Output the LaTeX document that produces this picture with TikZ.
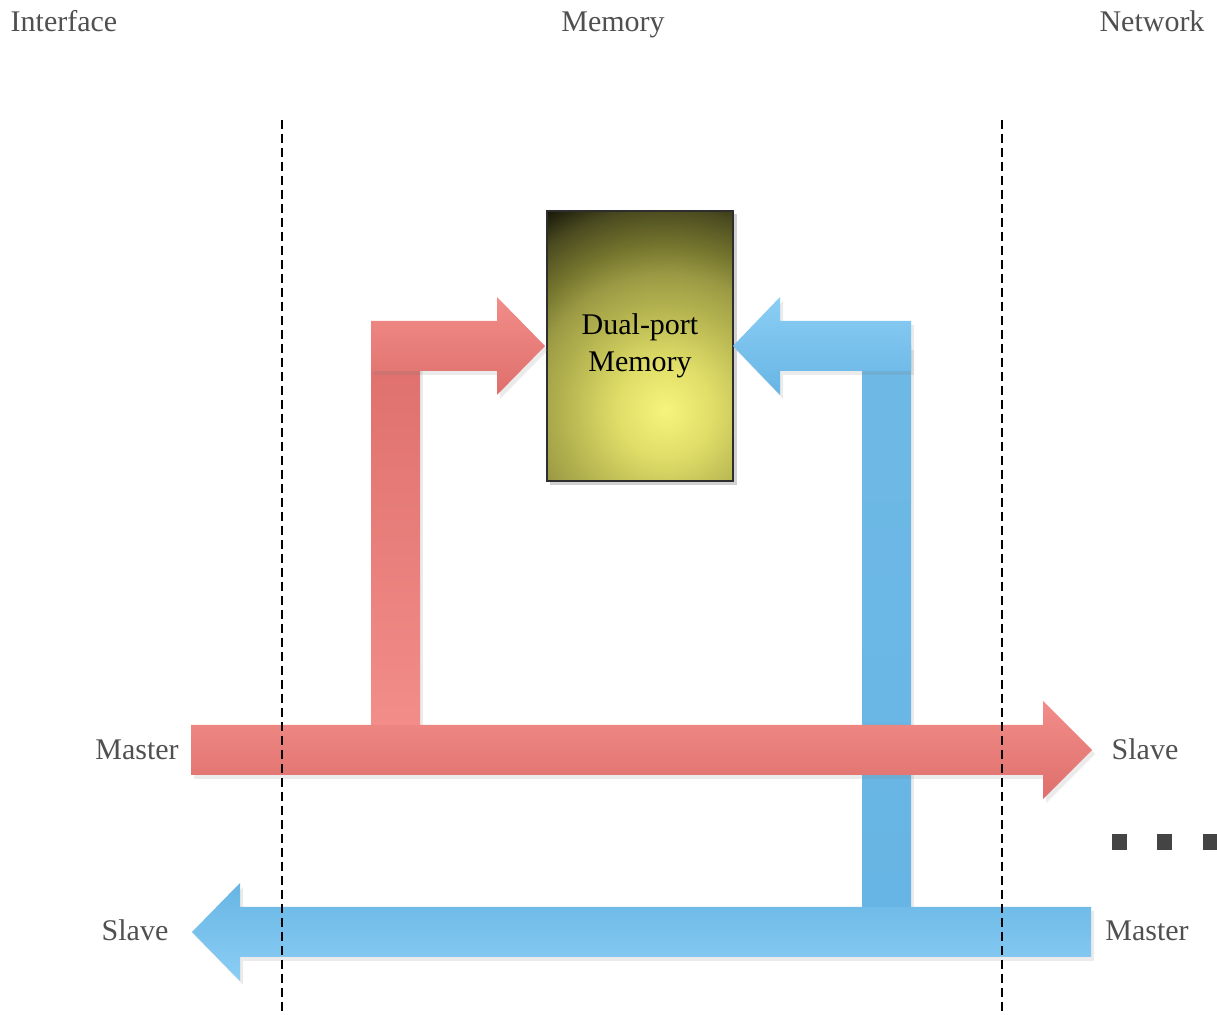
\documentclass[tikz,border=0pt]{standalone}
\usepackage{fontspec}
\setmainfont{Liberation Serif}
\usetikzlibrary{shadows}

\definecolor{rossoChiaro}{HTML}{F28D89}
\definecolor{rossoScuro}{HTML}{DE6F6C}
\definecolor{bluChiaro}{HTML}{8BCEF5}
\definecolor{bluScuro}{HTML}{67B5E4}
\definecolor{testoGrigio}{HTML}{505050}
\definecolor{puntiGrigio}{HTML}{444444}
\definecolor{bordoBox}{HTML}{2E2E2E}

\definecolor{mem0}{HTML}{F6F47C}
\definecolor{mem1}{HTML}{E0DE68}
\definecolor{mem2}{HTML}{B5B450}
\definecolor{mem3}{HTML}{9C9B45}
\definecolor{mem4}{HTML}{77772F}
\definecolor{mem5}{HTML}{4A4A20}
\definecolor{mem6}{HTML}{18180A}

% la parte centrale (25bp) copre il cerchio
\pgfdeclareradialshading{memoria}{\pgfpoint{0bp}{0bp}}{color(0bp)=(mem0); color(5bp)=(mem1); color(10.5bp)=(mem2); color(14bp)=(mem3); color(17bp)=(mem4); color(21bp)=(mem5); color(24bp)=(mem6); color(50bp)=(mem6)}

\begin{document}
\begin{tikzpicture}[x=0.5pt, y=-0.5pt, font=\fontsize{15}{18.5}\selectfont,
    etichetta/.style={text=testoGrigio, inner sep=0pt, anchor=base},
    ombra/.style={drop shadow={opacity=0.16, shadow xshift=1.5pt, shadow yshift=-2pt}},
    tratteggio/.style={line width=1pt, dash pattern=on 4.5pt off 2.5pt}]

    \useasboundingbox (0,0) rectangle (1217,1015);

    % Freccia piena: #1 inizio, #2 base della punta, #3 punta, #4 asse
    \newcommand{\frecciapiena}[4]{
        (#1,#4-25) -- (#2,#4-25) -- (#2,#4-49) -- (#3,#4)
        -- (#2,#4+49) -- (#2,#4+25) -- (#1,#4+25) -- cycle
    }

    % -- Titoli delle colonne --
    \node[etichetta] (interfaccia) at (64,32) {Interface};
    \node[etichetta] (memoria) at (613,32) {Memory};
    \node[etichetta] (rete) at (1152,32) {Network};

    % -- Blocco centrale: memoria dual-port --
    \fill[black, opacity=0.18] (550,214) rectangle (737,485);
    \begin{scope}
        \clip (547,211) rectangle (733,481);
        \shade[shading=memoria] (665,410) circle (240);
    \end{scope}
    \node[draw=bordoBox, line width=0.8pt, minimum width=93pt, minimum height=135pt,
          align=center, text=black, inner sep=0pt] (dualport) at (640,346) {Dual-port\\Memory};

    % -- Percorso blu (Network -> Interface) --
    \shade[ombra, top color=bluScuro!95!white, bottom color=bluScuro] (862,346) rectangle (911,907);
    \shade[ombra, top color=bluScuro, bottom color=bluChiaro] \frecciapiena{1091}{240}{192}{932};
    \shade[ombra, top color=bluChiaro, bottom color=bluScuro] \frecciapiena{911}{780}{733}{346};

    % -- Percorso rosso (Interface -> Network) --
    \shade[ombra, top color=rossoScuro, bottom color=rossoChiaro] (371,346) rectangle (420,725);
    \shade[ombra, top color=rossoChiaro, bottom color=rossoScuro] \frecciapiena{371}{497}{545}{346};
    \shade[ombra, top color=rossoChiaro, bottom color=rossoScuro] \frecciapiena{191}{1043}{1092}{750};

    % -- Confini tra le zone --
    \draw[tratteggio] (282,120) -- (282,1012);
    \draw[tratteggio] (1002,120) -- (1002,1012);

    % -- Estremi delle frecce --
    \node[etichetta] (masterSx) at (137,760) {Master};
    \node[etichetta] (slaveDx) at (1145,760) {Slave};
    \node[etichetta] (slaveSx) at (135,941) {Slave};
    \node[etichetta] (masterDx) at (1147,941) {Master};

    % Puntini di sospensione
    \foreach \x in {1112,1157,1203}
        \fill[puntiGrigio] (\x,834) rectangle ++(15,16);
\end{tikzpicture}
\end{document}
